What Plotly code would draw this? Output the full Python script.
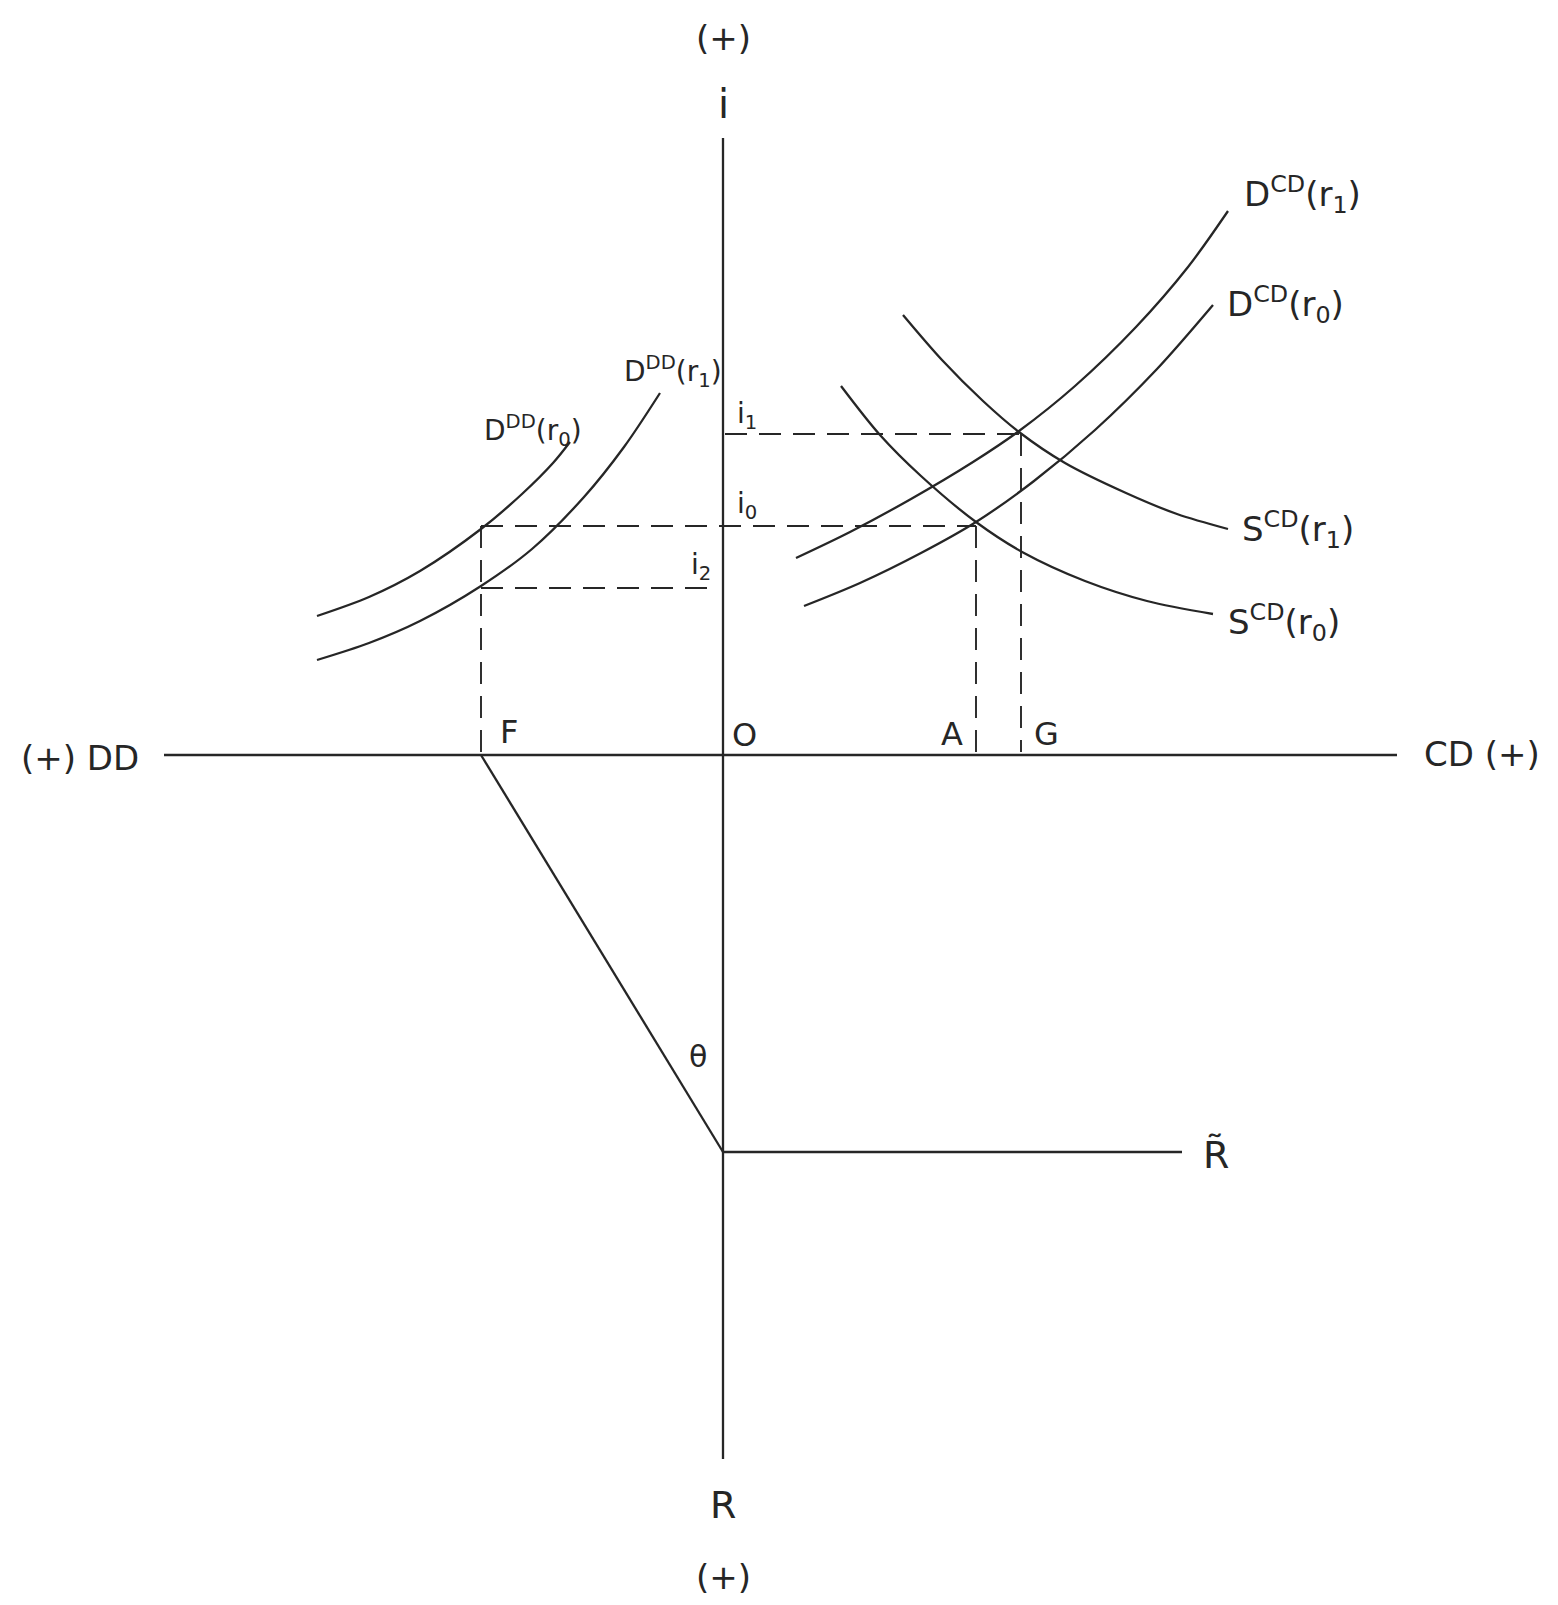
import plotly.graph_objects as go

# ---- Data (diagram coordinates, y grows downward) ----
ORIGIN = (723, 755)
V_AXIS_Y = [138, 1459]
H_AXIS_X = [164, 1397]

# interest-rate levels
I1 = 434
I0 = 526
I2 = 588
# quantity positions
F_X = 481
A_X = 976
G_X = 1021
# reserve line
THETA_VERTEX_Y = 1152
RTILDE_END_X = 1182

dcd_r1_x = [796, 850, 911, 973, 1019, 1075, 1136, 1188, 1228]
dcd_r1_y = [558, 532, 499, 462, 431, 386, 327, 267, 211]

dcd_r0_x = [804, 860, 921, 976, 1034, 1095, 1157, 1213]
dcd_r0_y = [606, 583, 553, 522, 481, 430, 369, 305]

scd_r1_x = [903, 942, 983, 1019, 1065, 1126, 1177, 1228]
scd_r1_y = [315, 360, 401, 432, 463, 493, 514, 529]

scd_r0_x = [841, 880, 921, 976, 1024, 1085, 1147, 1213]
scd_r0_y = [386, 435, 476, 522, 553, 581, 601, 614]

ddd_r1_x = [317, 369, 420, 481, 532, 584, 624, 660]
ddd_r1_y = [660, 643, 621, 586, 549, 497, 447, 393]

ddd_r0_x = [317, 369, 420, 481, 522, 553, 570]
ddd_r0_y = [616, 597, 571, 529, 494, 463, 442]

LINE = "#262626"
FONT = "DejaVu Sans"

fig = go.Figure()

def solid(x, y, width=2.3, shape="linear"):
    fig.add_trace(go.Scatter(x=x, y=y, mode="lines", hoverinfo="skip",
                             line=dict(color=LINE, width=width, shape=shape,
                                       smoothing=0.9 if shape == "spline" else None)))

def dashed(x, y):
    fig.add_trace(go.Scatter(x=x, y=y, mode="lines", hoverinfo="skip",
                             line=dict(color=LINE, width=1.9, dash="22px,12px")))

# axes
solid([ORIGIN[0], ORIGIN[0]], V_AXIS_Y)
solid(H_AXIS_X, [ORIGIN[1], ORIGIN[1]])

# curves
for xs, ys in [(dcd_r1_x, dcd_r1_y), (dcd_r0_x, dcd_r0_y),
               (scd_r1_x, scd_r1_y), (scd_r0_x, scd_r0_y),
               (ddd_r1_x, ddd_r1_y), (ddd_r0_x, ddd_r0_y)]:
    solid(xs, ys, shape="spline")

# dashed guides
dashed([ORIGIN[0] + 2, G_X], [I1, I1])
dashed([G_X, G_X], [I1, ORIGIN[1] - 3])
dashed([F_X, A_X], [I0, I0])
dashed([A_X, A_X], [I0, ORIGIN[1] - 3])
dashed([F_X, ORIGIN[0] - 9], [I2, I2])
dashed([F_X, F_X], [I0, ORIGIN[1]])

# reserve relation
solid([F_X, ORIGIN[0]], [ORIGIN[1], THETA_VERTEX_Y])
solid([ORIGIN[0], RTILDE_END_X], [THETA_VERTEX_Y, THETA_VERTEX_Y])

def label(x, y, text, size=34, xanchor="center"):
    fig.add_annotation(x=x, y=y, text=text, showarrow=False, xanchor=xanchor,
                       yanchor="middle", font=dict(family=FONT, size=size, color=LINE))

label(723, 38, "(+)")
label(723, 104, "i", size=40)
label(1242, 194, "D<sup>CD</sup>(r<sub>1</sub>)", xanchor="left")
label(1225, 304, "D<sup>CD</sup>(r<sub>0</sub>)", xanchor="left")
label(1240, 529, "S<sup>CD</sup>(r<sub>1</sub>)", xanchor="left")
label(1226, 622, "S<sup>CD</sup>(r<sub>0</sub>)", xanchor="left")
label(622, 371, "D<sup>DD</sup>(r<sub>1</sub>)", size=28, xanchor="left")
label(482, 430, "D<sup>DD</sup>(r<sub>0</sub>)", size=28, xanchor="left")
label(747, 415, "i<sub>1</sub>", size=28)
label(747, 505, "i<sub>0</sub>", size=28)
label(701, 566, "i<sub>2</sub>", size=28)
label(509, 732, "F", size=32)
label(744, 735, "O", size=32)
label(952, 734, "A", size=32)
label(1046, 734, "G", size=32)
label(80, 758, "(+) DD", size=34)
label(1482, 754, "CD (+)", size=34)
label(698, 1056, "θ", size=30)
label(1216, 1155, "R̃", size=38)
label(723, 1505, "R", size=38)
label(723, 1577, "(+)")

W, H = 1542, 1589
fig.update_layout(
    width=W, height=H, margin=dict(l=0, r=0, t=0, b=0),
    paper_bgcolor="white", plot_bgcolor="white",
    showlegend=False,
    xaxis=dict(range=[8, 8 + W], visible=False, fixedrange=True),
    yaxis=dict(range=[8 + H, 8], visible=False, fixedrange=True),
)

fig.write_html("out.html")
